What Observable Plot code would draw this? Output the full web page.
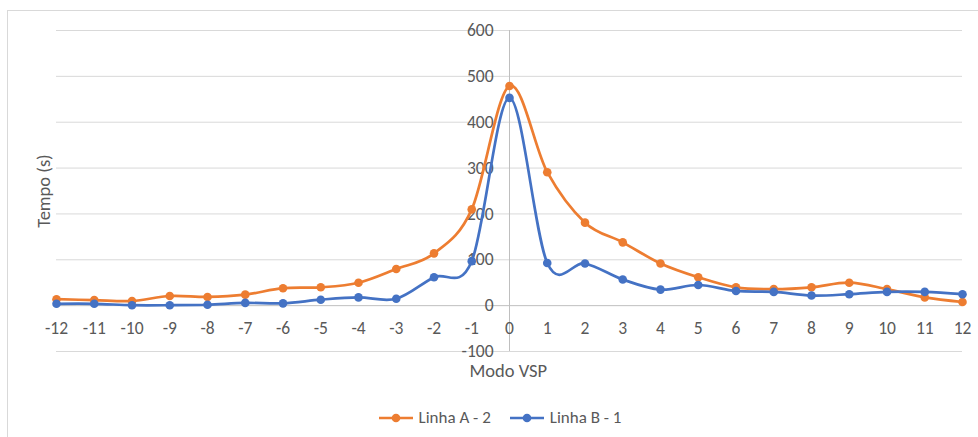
<!DOCTYPE html>
<html>
<head>
<meta charset="utf-8">
<script src="https://cdn.jsdelivr.net/npm/d3@7"></script>
<script src="https://cdn.jsdelivr.net/npm/@observablehq/plot@0.6"></script>
<style>
  html, body { margin: 0; padding: 0; background: #fff; }
  body { width: 978px; height: 437px; position: relative; overflow: hidden;
         font-family: Carlito, Calibri, "Open Sans", sans-serif; color: #595959; }
  #frame { position: absolute; left: 7px; top: 10px; width: 990px; height: 450px;
           border: 1px solid #d9d9d9; box-sizing: border-box; }
  #chart { position: absolute; left: 0; top: 0; }
  #legend { position: absolute; top: 407px; left: 0; width: 978px; display: flex;
            justify-content: center; gap: 19px; font-size: 17px; padding-left: 22px; box-sizing: border-box; }
  .item { display: flex; align-items: center; gap: 6px; }
</style>
</head>
<body>
<div id="frame"></div>
<div id="chart"></div>
<div id="legend"></div>
<script>
// Modo VSP bins
const modes = [-12, -11, -10, -9, -8, -7, -6, -5, -4, -3, -2, -1, 0, 1, 2, 3, 4, 5, 6, 7, 8, 9, 10, 11, 12];
// Tempo (s) spent in each mode
const linhaA2 = [14, 12, 10, 21, 19, 24, 38, 40, 50, 80, 114, 210, 479, 291, 181, 138, 92, 62, 40, 36, 40, 50, 36, 18, 8];
const linhaB1 = [4, 4, 1, 1, 2, 6, 5, 13, 18, 15, 62, 97, 453, 93, 92, 57, 35, 45, 32, 30, 22, 25, 30, 30, 25];
const seriesNames = ["Linha A - 2", "Linha B - 1"];
const seriesColors = ["#ED7D31", "#4472C4"];
const yTicks = [-100, 0, 100, 200, 300, 400, 500, 600];

const rows = [];
[linhaA2, linhaB1].forEach((vals, s) => {
  vals.forEach((v, i) => rows.push({ mode: modes[i], tempo: v, serie: seriesNames[s] }));
});

const chart = Plot.plot({
  width: 978,
  height: 395,
  marginLeft: 56,
  marginRight: 16,
  marginTop: 30,
  marginBottom: 44,
  style: { fontFamily: 'Carlito, Calibri, "Open Sans", sans-serif', fontSize: "17px", color: "#595959", background: "transparent" },
  x: { domain: [-12, 12], axis: null },
  y: { domain: [-100, 600], axis: null },
  color: { domain: seriesNames, range: seriesColors },
  marks: [
    Plot.ruleY(yTicks.filter(t => t !== 0), { stroke: "#d9d9d9", strokeWidth: 1 }),
    Plot.ruleY([0], { stroke: "#bfbfbf", strokeWidth: 1 }),
    Plot.ruleX([0], { y1: -100, y2: 600, stroke: "#bfbfbf", strokeWidth: 1 }),
    // y tick labels sit just left of the vertical axis at x = 0
    Plot.text(yTicks, { x: () => 0, y: d => d, text: d => String(d), textAnchor: "end", dx: -16, fill: "#595959", fontSize: 17.5 }),
    // x tick labels sit under the zero line
    Plot.text(modes, { x: d => d, y: () => 0, text: d => String(d), dy: 23, fill: "#595959", fontSize: 17.5 }),
    Plot.text(["Modo VSP"], { x: () => 0, y: () => -100, text: d => d, textAnchor: "start", dx: -40, dy: 20, fill: "#595959", fontSize: 18.5 }),
    Plot.text(["Tempo (s)"], { frameAnchor: "left", text: d => d, rotate: -90, textAnchor: "middle", dx: -12, fill: "#595959", fontSize: 18.5 }),
    Plot.line(rows, { x: "mode", y: "tempo", stroke: "serie", z: "serie", curve: "cardinal", strokeWidth: 2.7 }),
    Plot.dot(rows, { x: "mode", y: "tempo", fill: "serie", r: 4.3 })
  ]
});
document.getElementById("chart").append(chart);

// legend below the plot
const legend = document.getElementById("legend");
seriesNames.forEach((name, i) => {
  const item = document.createElement("div");
  item.className = "item";
  item.innerHTML = `<svg width="34" height="10"><line x1="0" x2="34" y1="5" y2="5" stroke="${seriesColors[i]}" stroke-width="2.7"/><circle cx="17" cy="5" r="4.3" fill="${seriesColors[i]}"/></svg><span>${name}</span>`;
  legend.append(item);
});
</script>
</body>
</html>
